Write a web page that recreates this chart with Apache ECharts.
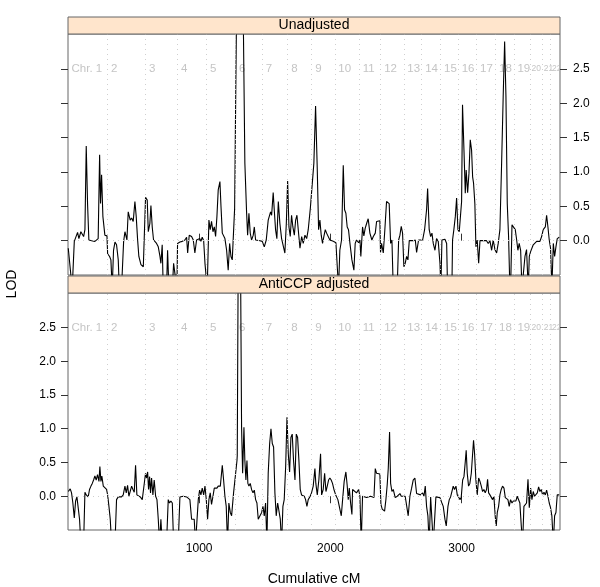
<!DOCTYPE html>
<html>
<head>
<meta charset="utf-8">
<script src="https://cdn.jsdelivr.net/npm/echarts@6/dist/echarts.min.js"></script>
<style>html,body{margin:0;padding:0;background:#fff}#c{width:600px;height:587px}</style>
</head>
<body>
<div id="c"></div>
<script>
const chrNames = ['Chr. 1','2','3','4','5','6','7','8','9','10','11','12','13','14','15','16','17','18','19','20','21','22'];
const chrStarts = [0,302,591,835,1056,1276,1480,1674,1857,2034,2220,2383,2560,2696,2840,2974,3114,3259,3399,3521,3614,3678];
const xTicks = [1000,2000,3000];
const yTicks = [0,0.5,1,1.5,2,2.5];
const panelNames = ['Unadjusted','AntiCCP adjusted'];

const unadjusted = [
[2,-0.11],[17,-0.09],[32,-0.7],[48,-0.01],[53,0],[73,0.12],[83,0.03],[98,0.13],[109,0.11],[119,0.06],[129,0.16],[139,1.38],[149,0.54],[159,0.01],[180,0],[205,-0.01],[220,0.01],[230,0.03],[241,1.25],[248,0.54],[256,0.96],[266,0.35],[281,0.08],[297,0.07],[302,-0.19],[317,-0.23],[327,-0.28],[337,-0.7],[347,-0.14],[358,-0.02],[370,-0.06],[383,-0.28],[391,-0.7],[408,-0.7],[424,-0.01],[434,0.13],[449,0.01],[459,0.42],[474,0.30],[485,0.33],[497,0.28],[510,0.57],[520,0.35],[530,0.03],[540,-0.23],[556,-0.35],[574,-0.38],[586,-0.38],[591,0.63],[604,0.59],[612,0.13],[624,0.25],[632,0.51],[642,0.20],[652,0.01],[663,0.03],[675,-0.04],[688,-0.09],[701,-0.23],[708,-0.33],[718,-0.06],[726,-0.7],[739,-0.7],[751,-0.7],[759,-0.14],[769,-0.7],[784,-0.7],[795,-0.7],[805,-0.33],[815,-0.48],[830,-0.7],[835,-0.04],[853,-0.02],[871,-0.01],[891,0.01],[904,0.05],[912,-0.18],[924,0.08],[942,0.06],[955,0.01],[967,-0.18],[980,0.01],[993,-0.01],[1005,0.03],[1013,-0.01],[1023,0.05],[1034,0],[1044,-0.33],[1061,-0.7],[1074,0.30],[1084,0.16],[1094,0.28],[1105,0.13],[1115,0.20],[1125,0.06],[1135,0.35],[1145,0.74],[1158,0.86],[1166,0.50],[1176,0.11],[1186,0.13],[1196,0.03],[1209,-0.14],[1221,-0.43],[1232,-0.04],[1242,-0.23],[1252,-0.28],[1265,-0.28],[1270,0.47],[1280,0.49],[1286,3.6],[1334,3.6],[1348,1.13],[1361,0.42],[1369,0.08],[1379,0.40],[1389,0.11],[1399,0.01],[1412,0.08],[1420,0.20],[1430,0.01],[1445,0],[1463,0],[1481,-0.01],[1496,-0.09],[1511,0.01],[1526,0.30],[1544,0.42],[1552,0.37],[1564,0.70],[1572,0.45],[1582,0.16],[1592,0.03],[1603,0.57],[1615,0.25],[1628,0.03],[1641,0.01],[1653,-0.18],[1664,0.25],[1674,0.87],[1684,0.20],[1694,0.06],[1704,0.37],[1714,0.20],[1725,0.08],[1735,0.30],[1745,0.37],[1755,0.16],[1768,-0.11],[1781,0.06],[1793,-0.04],[1806,0.08],[1819,0.03],[1831,0.16],[1847,0.47],
[1856,0.47],[1874,1.13],[1887,1.96],[1900,1.03],[1910,0.16],[1920,0.30],[1930,0.08],[1940,-0.04],[1950,0.06],[1961,0.16],[1971,0.11],[1983,0.13],[1996,0.01],[2009,0],[2022,-0.01],[2042,-0.03],[2052,-0.04],[2062,-0.7],[2072,-0.14],[2085,0.01],[2098,1.10],[2108,0.45],[2118,0.40],[2128,0.20],[2138,0.16],[2149,-0.04],[2164,-0.28],[2179,-0.43],[2189,-0.04],[2199,0.01],[2215,-0.03],[2225,0.01],[2232,-0.23],[2245,0.20],[2255,0.07],[2265,0.18],[2276,0.25],[2288,0.32],[2301,0.11],[2316,0.01],[2327,0.06],[2342,0.11],[2352,0.28],[2365,0.29],[2377,0.29],[2382,-0.17],[2390,-0.04],[2403,-0.18],[2415,0.16],[2428,0.57],[2438,0.58],[2448,0.54],[2459,-0.04],[2469,0.01],[2479,-0.7],[2509,-0.7],[2520,0.01],[2530,0.08],[2540,0.21],[2550,0.11],[2560,-0.38],[2570,-0.33],[2581,-0.23],[2591,-0.28],[2601,0],[2616,-0.01],[2631,0],[2647,0.01],[2657,-0.17],[2672,0.01],[2687,0],[2703,0.01],[2718,0.16],[2733,0.45],[2741,0.76],[2753,0.16],[2764,0.06],[2774,0.11],[2784,-0.04],[2797,-0.14],[2809,0.03],[2822,-0.01],[2835,-0.33],[2842,-0.7],[2850,0.01],[2860,0.03],[2873,0.02],[2886,-0.04],[2893,-0.7],[2926,-0.7],[2931,0.01],[2941,0.16],[2952,0.35],[2962,0.62],[2972,0.16],[2982,0.13],[2992,0.11],[3000,0.57],[3007,1.98],[3018,1.32],[3028,0.69],[3035,1.03],[3046,0.70],[3056,0.98],[3066,1.47],[3076,1.32],[3084,0.93],[3091,0.84],[3101,0.54],[3109,-0.09],[3119,0.01],[3130,-0.33],[3140,0],[3152,-0.01],[3165,0],[3178,-0.01],[3190,0],[3203,-0.04],[3216,0],[3229,-0.14],[3241,0.01],[3254,-0.13],[3267,-0.18],[3279,-0.04],[3292,0.16],[3305,1.13],[3317,2.10],[3328,2.90],[3338,2.10],[3348,0.54],[3358,0.06],[3368,-0.7],[3376,-0.48],[3384,0.23],[3399,0.23],[3409,0.16],[3419,0.02],[3429,-0.14],[3439,-0.04],[3450,-0.14],[3460,-0.7],[3470,-0.7],[3483,-0.23],[3495,-0.13],[3508,-0.7],[3516,-0.23],[3526,-0.16],[3536,-0.18],[3546,-0.06],[3559,-0.04],[3572,-0.01],[3584,0.01],[3597,-0.01],[3610,0.06],[3622,0.16],[3638,0.20],[3648,0.37],[3658,0.20],[3668,0.01],[3678,-0.11],[3688,-0.7],[3699,-0.04],[3709,-0.23],[3719,-0.09],[3729,0.03],[3744,0.05]
];

const adjusted = [
[2,0.07],[17,0.11],[27,0.05],[37,-0.10],[48,-0.32],[58,-0.07],[68,-0.01],[78,-0.02],[88,-0.34],[98,-0.7],[119,-0.7],[129,0.06],[139,0.02],[154,-0.01],[164,0.10],[175,0.15],[185,0.19],[195,0.24],[205,0.30],[215,0.24],[225,0.32],[236,0.22],[243,0.44],[251,0.22],[258,0.30],[269,0.15],[281,0.14],[294,0.10],[302,0.02],[312,-0.15],[322,-0.34],[332,-0.7],[358,-0.7],[370,-0.05],[383,-0.01],[396,0],[408,-0.01],[421,0.02],[434,0.15],[444,0.05],[454,0.16],[464,0],[474,0.02],[485,0.15],[495,0.10],[505,0.06],[515,0.46],[525,0.02],[535,0],[551,-0.01],[566,-0.05],[581,-0.05],[591,0.34],[599,0.27],[607,0.36],[614,0.10],[622,0.29],[629,0.05],[637,0.27],[647,0.02],[657,0.24],[668,0],[678,-0.05],[688,-0.34],[698,-0.7],[708,-0.34],[718,-0.7],[751,-0.7],[764,-0.05],[774,-0.10],[784,-0.07],[795,-0.10],[805,-0.7],[840,-0.7],[853,-0.01],[866,0.01],[878,0],[891,0.01],[904,-0.01],[917,-0.01],[929,-0.05],[942,-0.34],[952,-0.36],[962,-0.34],[972,-0.7],[983,-0.7],[993,-0.05],[1003,0.09],[1013,0.02],[1023,0.12],[1034,0.02],[1044,0.15],[1054,-0.05],[1064,-0.34],[1074,-0.05],[1084,0.05],[1094,-0.12],[1105,0],[1115,0.12],[1125,0.10],[1135,0.12],[1145,0.15],[1161,0.15],[1176,0.46],[1186,0.24],[1196,0],[1206,-0.15],[1216,-0.7],[1226,-0.10],[1237,-0.24],[1247,-0.29],[1262,0.05],[1277,0.06],[1288,0.53],[1290,0.6],[1298,3.8],[1314,3.8],[1323,1.02],[1331,0.34],[1341,1.02],[1348,0.53],[1356,0.24],[1364,0.53],[1371,0.19],[1379,0.15],[1389,0.19],[1399,0.10],[1410,0.05],[1420,0.09],[1430,-0.05],[1440,-0.10],[1450,-0.34],[1465,-0.34],[1476,-0.24],[1486,-0.15],[1496,-0.29],[1506,-0.10],[1516,-0.7],[1526,0.34],[1537,0.78],[1547,1.00],[1557,0.78],[1567,0.73],[1577,0.05],[1587,-0.29],[1598,-0.10],[1608,-0.12],[1618,-0.34],[1628,-0.7],[1638,-0.15],[1648,-0.05],[1659,0.44],[1669,1.17],[1679,0.63],[1689,0.36],[1699,0.87],[1709,0.92],[1719,0.53],[1730,0.24],[1740,0.92],[1750,0.87],[1760,0.53],[1770,0.10],[1780,0.02],[1791,0],[1801,0],[1811,-0.05],[1821,-0.15],[1831,-0.05],[1846,0],
[1856,0.05],[1869,0.15],[1882,0.41],[1889,0.19],[1900,0.02],[1912,0.24],[1925,0.63],[1933,0.02],[1945,0.10],[1956,0.34],[1966,0.07],[1976,0.15],[1986,0.24],[1996,0.27],[2006,0.24],[2016,0.19],[2027,0.10],[2042,0.01],[2057,-0.05],[2072,-0.05],[2083,-0.29],[2093,-0.05],[2105,0.22],[2118,0.36],[2128,0.16],[2136,-0.05],[2144,0.12],[2154,-0.10],[2164,-0.27],[2169,0.10],[2184,0.09],[2199,0.05],[2215,0.10],[2225,0],[2235,-0.7],[2245,0],[2260,-0.01],[2276,-0.02],[2291,-0.02],[2306,0],[2321,0],[2332,-0.02],[2342,0.41],[2352,0.34],[2365,0.32],[2377,0.33],[2385,-0.12],[2395,-0.19],[2403,-0.17],[2413,-0.22],[2423,-0.05],[2433,0.17],[2441,0.41],[2451,0.95],[2459,0.19],[2469,0.07],[2479,0.10],[2494,-0.02],[2510,0],[2530,0.04],[2540,0],[2555,-0.01],[2570,0],[2581,-0.01],[2593,-0.29],[2606,0],[2619,0.12],[2631,0.24],[2644,0.27],[2657,0.04],[2672,0.04],[2687,0.02],[2703,0.05],[2713,0],[2723,0.15],[2733,-0.15],[2743,-0.29],[2753,-0.7],[2764,-0.01],[2774,-0.01],[2784,-0.7],[2794,-0.7],[2804,-0.01],[2819,0],[2835,-0.02],[2850,-0.10],[2860,-0.15],[2873,-0.34],[2883,-0.44],[2896,-0.15],[2906,-0.05],[2916,-0.01],[2926,0.07],[2936,0.15],[2946,0.10],[2957,0.15],[2967,0.02],[2977,-0.01],[2987,-0.05],[2997,-0.02],[3008,0.24],[3018,0.29],[3028,0.51],[3035,0.68],[3043,0.34],[3053,0.15],[3063,0.19],[3074,0.34],[3084,0.34],[3091,0.83],[3099,0.63],[3109,0.24],[3119,0.02],[3130,0.27],[3140,0.22],[3150,0.15],[3160,0.07],[3170,0.10],[3180,0.05],[3190,0.10],[3198,0.25],[3206,0.05],[3216,0.02],[3226,0],[3236,-0.05],[3246,0],[3256,-0.29],[3264,-0.44],[3272,-0.24],[3282,-0.15],[3292,0.02],[3302,0.10],[3312,0.15],[3323,0.12],[3333,-0.02],[3343,0],[3353,-0.05],[3363,-0.15],[3373,-0.05],[3384,-0.10],[3394,-0.07],[3404,-0.05],[3414,-0.07],[3424,0],[3434,0.02],[3444,-0.10],[3455,-0.44],[3465,-0.7],[3475,-0.15],[3485,-0.17],[3495,-0.10],[3506,0.25],[3516,-0.17],[3526,0.12],[3536,-0.05],[3546,0.07],[3556,0],[3567,0.02],[3577,0.05],[3587,0.14],[3597,0.07],[3607,0.10],[3617,0.02],[3628,0.06],[3638,0.02],[3648,0.09],[3658,0],[3668,-0.10],[3678,-0.17],[3688,-0.29],[3699,-0.7],[3709,-0.29],[3719,-0.24],[3729,0.02],[3744,0.02]
];

const FONT = 'Liberation Sans, Arial, Helvetica, sans-serif';
const X0 = 68, W = 492, H = 241;
const gridTops = [34, 293];
const stripH = 17;
const panels = [unadjusted, adjusted];

const chart = echarts.init(document.getElementById('c'), null, {renderer: 'canvas'});

const grids = gridTops.map(t => ({left: X0, top: t, width: W, height: H, show: true, borderColor: '#666', borderWidth: 1, backgroundColor: 'transparent'}));

const xAxes = [
  {type: 'value', gridIndex: 0, position: 'top', offset: stripH, min: 0, max: 3750,
   axisLine: {show: false}, splitLine: {show: false},
   axisTick: {show: true, length: 7, customValues: xTicks, lineStyle: {color: '#333'}},
   axisLabel: {show: false}},
  {type: 'value', gridIndex: 1, position: 'bottom', min: 0, max: 3750,
   axisLine: {show: false}, splitLine: {show: false},
   axisTick: {show: true, length: 7, customValues: xTicks, lineStyle: {color: '#333'}},
   axisLabel: {show: true, customValues: xTicks, margin: 13, fontSize: 12, color: '#000', fontFamily: FONT,
     formatter: v => String(v)},
   name: 'Cumulative cM', nameLocation: 'middle', nameGap: 42,
   nameTextStyle: {fontSize: 14, color: '#000', fontFamily: FONT}}
];

function yAx(g, pos, labels, margin) {
  return {type: 'value', gridIndex: g, position: pos, min: -0.5, max: 3.01,
    axisLine: {show: false}, splitLine: {show: false},
    axisTick: {show: true, length: 7, customValues: yTicks, lineStyle: {color: '#333'}},
    axisLabel: {show: labels, customValues: yTicks, margin: margin, fontSize: 12, color: '#000', fontFamily: FONT,
      formatter: v => Number(v).toFixed(1)}};
}
const yAxes = [yAx(0, 'left', false, 10), yAx(0, 'right', true, 13), yAx(1, 'left', true, 12), yAx(1, 'right', false, 10)];

const series = [];
panels.forEach((data, g) => {
  const yi = g * 2;
  series.push({
    type: 'line', xAxisIndex: g, yAxisIndex: yi, data: data, showSymbol: false, silent: true,
    lineStyle: {opacity: 0}, z: 1,
    markLine: {silent: true, symbol: ['none', 'none'], label: {show: false},
      lineStyle: {type: [1, 4], color: '#cfcfcf', width: 1},
      data: chrStarts.slice(1).map(s => ({xAxis: s})).concat([{yAxis: 0}])}
  });
  series.push({
    type: 'scatter', xAxisIndex: g, yAxisIndex: yi, symbolSize: 1, silent: true,
    itemStyle: {color: 'rgba(0,0,0,0)'}, z: 2,
    data: chrStarts.map((s, i) => ({value: [s, 2.5], name: chrNames[i],
      label: {fontSize: i >= 19 ? 8.5 : 11.5, distance: i >= 19 ? 1 : 3}})),
    label: {show: true, position: 'right', formatter: p => p.name, color: '#b5b5b5', fontFamily: FONT}
  });
  series.push({
    type: 'line', xAxisIndex: g, yAxisIndex: yi, data: data, showSymbol: false, clip: true,
    lineStyle: {color: '#000', width: 1.1}, z: 3
  });
});

const graphics = [];
gridTops.forEach((t, i) => {
  graphics.push({type: 'rect', shape: {x: X0, y: t - stripH, width: W, height: stripH},
    style: {fill: '#FFE5CC', stroke: '#666', lineWidth: 1}, z: 10});
  graphics.push({type: 'text', x: X0 + W / 2, y: t - stripH / 2,
    style: {text: panelNames[i], fill: '#000', font: '14px ' + FONT, textAlign: 'center', textVerticalAlign: 'middle'}, z: 11});
});
graphics.push({type: 'text', x: 12, y: 284, rotation: Math.PI / 2,
  style: {text: 'LOD', fill: '#000', font: '14px ' + FONT, textAlign: 'center', textVerticalAlign: 'middle'}});

chart.setOption({
  animation: false,
  backgroundColor: '#fff',
  grid: grids,
  xAxis: xAxes,
  yAxis: yAxes,
  series: series,
  graphic: graphics
});
</script>
</body>
</html>
